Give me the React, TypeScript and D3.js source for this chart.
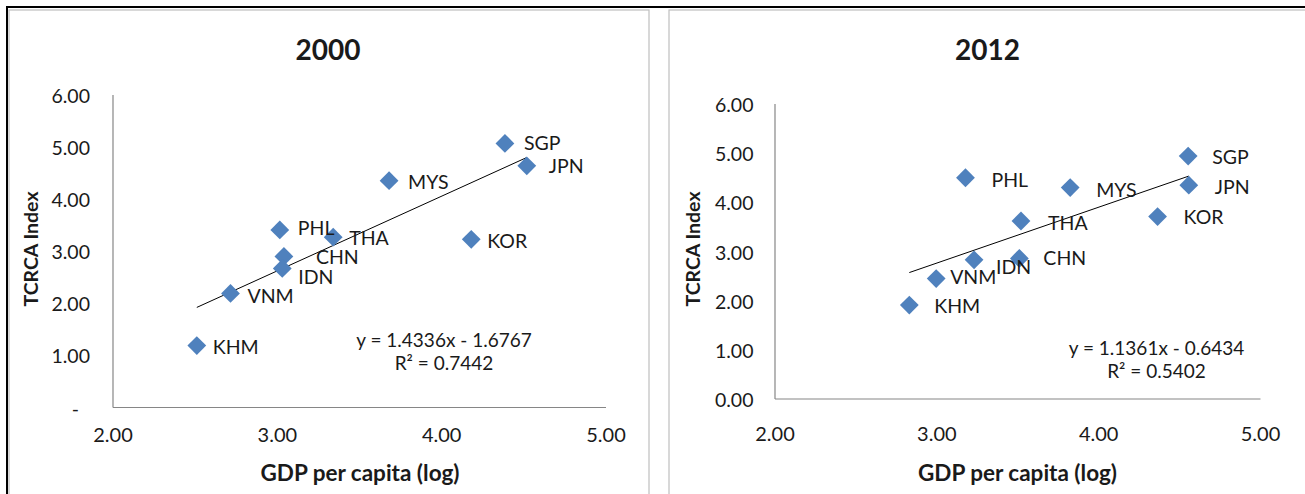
import React from "react";
import * as d3 from "d3";

const countries = ["SGP", "JPN", "MYS", "PHL", "THA", "CHN", "IDN", "KOR", "VNM", "KHM"];
const gdp2000 = [4.385, 4.518, 3.68, 3.015, 3.34, 3.04, 3.03, 4.18, 2.715, 2.51];
const tcrca2000 = [5.07, 4.64, 4.355, 3.41, 3.27, 2.9, 2.67, 3.23, 2.19, 1.19];
const gdp2012 = [4.553, 4.557, 3.824, 3.177, 3.52, 3.51, 3.23, 4.364, 2.996, 2.83];
const tcrca2012 = [4.94, 4.35, 4.3, 4.5, 3.62, 2.86, 2.83, 3.71, 2.45, 1.91];

const slope2000 = 1.4336;
const intercept2000 = -1.6767;
const r2_2000 = "0.7442";
const slope2012 = 1.1361;
const intercept2012 = -0.6434;
const r2_2012 = "0.5402";

const xTicks = [2, 3, 4, 5];
const yTicks = [0, 1, 2, 3, 4, 5, 6];

// label nudges (pixels, relative to the marker), one per country
const labelDx2000 = [19, 22, 19, 18, 16, 32, 16, 16, 17, 16];
const labelDy2000 = [0, 0, 1, -2, 1, 1, 9, 2, 3, 1];
const labelDx2012 = [24, 26, 26, 26, 27, 24, 22, 26, 14, 25];
const labelDy2012 = [1, 2, 2, 2, 2, 0, 7, 0, -2, 1];

const FONT = "Lato, 'Open Sans', sans-serif";
const BLUE = "#4F81BD";
const AXIS = "#868686";
const TXT = "#1a1a1a";

type PanelProps = {
  title: string;
  gdp: number[];
  tcrca: number[];
  slope: number;
  intercept: number;
  r2: string;
  dx: number[];
  dy: number[];
  xr: [number, number];
  yr: [number, number];
  zeroLabel: string;
  yLabelRight: number;
  xTickY: number;
  titleX: number;
  yTitleX: number;
  xTitleX: number;
  eqX: number;
  eqY: number;
};

function Panel(p: PanelProps) {
  const x = d3.scaleLinear().domain([2, 5]).range(p.xr);
  const y = d3.scaleLinear().domain([0, 6]).range(p.yr);
  const [xmin, xmax] = d3.extent(p.gdp) as [number, number];
  const line = d3
    .line<number>()
    .x((v) => x(v))
    .y((v) => y(p.slope * v + p.intercept));
  const diamond = d3.symbol().type(d3.symbolDiamond2).size(225)();
  const fmtY = (v: number) => (v === 0 ? p.zeroLabel : d3.format(".2f")(v));
  const eq = `y = ${p.slope.toFixed(4)}x - ${Math.abs(p.intercept).toFixed(4)}`;
  return (
    <g fontFamily={FONT} fill={TXT}>
      <text x={p.titleX} y={49.5} dy="0.36em" textAnchor="middle" fontWeight="bold" fontSize={28}>
        {p.title}
      </text>
      <line x1={p.xr[0]} x2={p.xr[0]} y1={p.yr[1]} y2={p.yr[0]} stroke={AXIS} strokeWidth={1.2} />
      <line x1={p.xr[0]} x2={p.xr[1]} y1={p.yr[0]} y2={p.yr[0]} stroke={AXIS} strokeWidth={1.2} />
      {yTicks.map((t) => (
        <text
          key={"y" + t}
          x={t === 0 && p.zeroLabel === "-" ? p.yLabelRight - 11 : p.yLabelRight}
          y={y(t) + 1}
          dy="0.36em"
          textAnchor="end"
          fontSize={19.5}
        >
          {fmtY(t)}
        </text>
      ))}
      {xTicks.map((t) => (
        <text key={"x" + t} x={x(t)} y={p.xTickY} dy="0.36em" textAnchor="middle" fontSize={20}>
          {d3.format(".2f")(t)}
        </text>
      ))}
      <text x={p.xTitleX} y={473} dy="0.36em" textAnchor="middle" fontWeight="bold" fontSize={22.5}>
        GDP per capita (log)
      </text>
      <text
        transform={`translate(${p.yTitleX},249) rotate(-90)`}
        dy="0.36em"
        textAnchor="middle"
        fontWeight="bold"
        fontSize={19.5}
      >
        TCRCA Index
      </text>
      <path d={line([xmin, xmax]) || ""} stroke="#000" strokeWidth={1} fill="none" />
      {p.gdp.map((g, i) => (
        <path key={"m" + i} d={diamond || ""} transform={`translate(${x(g)},${y(p.tcrca[i])})`} fill={BLUE} />
      ))}
      {p.gdp.map((g, i) => (
        <text
          key={"l" + i}
          x={x(g) + p.dx[i]}
          y={y(p.tcrca[i]) + p.dy[i]}
          dy="0.36em"
          fontSize={19.5}
        >
          {countries[i]}
        </text>
      ))}
      <text x={p.eqX} y={p.eqY} dy="0.36em" textAnchor="middle" fontSize={19}>
        {eq}
      </text>
      <text x={p.eqX} y={p.eqY + 23} dy="0.36em" textAnchor="middle" fontSize={19}>
        {`R² = ${p.r2}`}
      </text>
    </g>
  );
}

export default function App() {
  return (
    <svg
      width={1305}
      height={494}
      style={{ position: "absolute", left: 0, top: 0, background: "#fff" }}
    >
      <rect x={0} y={0} width={1305} height={494} fill="#fff" />
      <rect x={9} y={10} width={640} height={500} fill="none" stroke="#BFBFBF" strokeWidth={1.2} />
      <rect x={669} y={10} width={660} height={500} fill="none" stroke="#BFBFBF" strokeWidth={1.2} />
      <line x1={7} x2={1305} y1={7} y2={7} stroke="#000" strokeWidth={2} />
      <line x1={7} x2={7} y1={6} y2={494} stroke="#000" strokeWidth={2} />
      <Panel
        title="2000"
        gdp={gdp2000}
        tcrca={tcrca2000}
        slope={slope2000}
        intercept={intercept2000}
        r2={r2_2000}
        dx={labelDx2000}
        dy={labelDy2000}
        xr={[113, 606]}
        yr={[407.5, 95]}
        zeroLabel="-"
        yLabelRight={90}
        xTickY={434.5}
        titleX={328}
        yTitleX={31}
        xTitleX={360}
        eqX={444}
        eqY={340}
      />
      <Panel
        title="2012"
        gdp={gdp2012}
        tcrca={tcrca2012}
        slope={slope2012}
        intercept={intercept2012}
        r2={r2_2012}
        dx={labelDx2012}
        dy={labelDy2012}
        xr={[775, 1260.5]}
        yr={[399, 104]}
        zeroLabel="0.00"
        yLabelRight={753.5}
        xTickY={433.4}
        titleX={987.5}
        yTitleX={693}
        xTitleX={1017.5}
        eqX={1156.5}
        eqY={348}
      />
    </svg>
  );
}
